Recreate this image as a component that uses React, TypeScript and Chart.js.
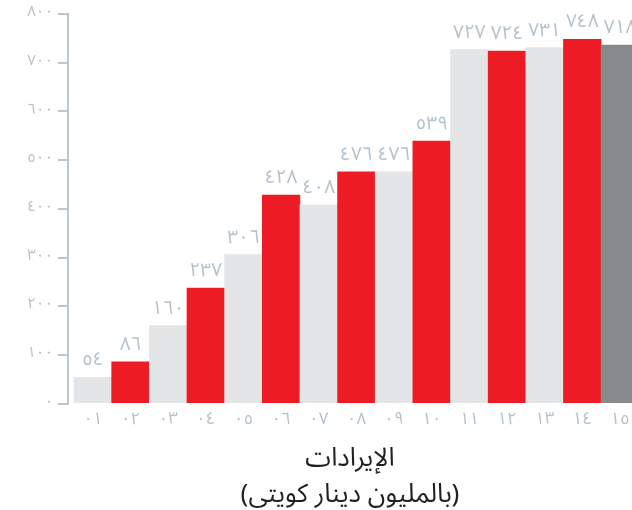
import React, { useEffect, useRef } from 'react';
import { Chart, registerables } from 'chart.js';

Chart.register(...registerables);

const years = ['٠١', '٠٢', '٠٣', '٠٤', '٠٥', '٠٦', '٠٧', '٠٨', '٠٩', '١٠', '١١', '١٢', '١٣', '١٤', '١٥'];
const revenues = [54, 86, 160, 237, 306, 428, 408, 476, 476, 539, 727, 724, 731, 748, 736];
const valueLabels = ['٥٤', '٨٦', '١٦٠', '٢٣٧', '٣٠٦', '٤٢٨', '٤٠٨', '٤٧٦', '٤٧٦', '٥٣٩', '٧٢٧', '٧٢٤', '٧٣١', '٧٤٨', '٧١٨'];
const yTickLabels = ['٠', '١٠٠', '٢٠٠', '٣٠٠', '٤٠٠', '٥٠٠', '٦٠٠', '٧٠٠', '٨٠٠'];
const axisTitle = ['الإيرادات', '(بالمليون دينار كويتي)'];

const RED = '#ED1C24';
const LIGHT = '#E4E5E7';
const DARK = '#88898B';
const barColors = years.map((_, i) => (i === years.length - 1 ? DARK : i % 2 === 0 ? LIGHT : RED));

const AXIS = '#B9C7D2';
const TEXT_LIGHT = '#B4C2CE';
const FONT = "'Noto Sans Arabic', 'DejaVu Sans', 'Noto Sans', sans-serif";

const valueLabelPlugin = {
  id: 'valueLabels',
  afterDatasetsDraw(chart: any) {
    const ctx = chart.ctx;
    const meta = chart.getDatasetMeta(0);
    ctx.save();
    ctx.fillStyle = TEXT_LIGHT;
    ctx.font = `19px ${FONT}`;
    ctx.textAlign = 'center';
    ctx.textBaseline = 'alphabetic';
    meta.data.forEach((el: any, i: number) => {
      ctx.fillText(valueLabels[i], el.x, el.y - 12);
    });
    ctx.restore();
  },
};

export default function App() {
  const ref = useRef<HTMLCanvasElement | null>(null);

  useEffect(() => {
    if (!ref.current) return;
    const chart = new Chart(ref.current, {
      type: 'bar',
      data: {
        datasets: [
          {
            data: revenues.map((v, i) => ({ x: i + 1, y: v })),
            backgroundColor: barColors,
            borderWidth: 0,
            categoryPercentage: 1,
            barPercentage: 1,
          },
        ],
      },
      options: {
        animation: false,
        responsive: true,
        maintainAspectRatio: false,
        layout: { padding: { top: 12, left: 0, right: 0, bottom: 0 } },
        plugins: {
          legend: { display: false },
          tooltip: { enabled: false },
        },
        scales: {
          x: {
            type: 'linear',
            min: 0.34,
            max: 15.32,
            offset: false,
            grid: { display: false, drawTicks: false },
            border: { display: false },
            afterBuildTicks: (s: any) => {
              s.ticks = years.map((_, i) => ({ value: i + 1 }));
            },
            afterFit: (s: any) => {
              s.paddingLeft = 0;
              s.paddingRight = 0;
            },
            ticks: {
              autoSkip: false,
              maxRotation: 0,
              color: TEXT_LIGHT,
              font: { family: FONT, size: 17 },
              padding: 8,
              callback: (v: any) => years[Number(v) - 1] ?? '',
            },
            title: {
              display: true,
              text: axisTitle,
              color: '#231F20',
              font: { family: FONT, size: 26, lineHeight: 36 / 26 },
              padding: { top: 4, bottom: -6 },
            },
          },
          y: {
            min: 0,
            max: 800,
            afterFit: (s: any) => {
              s.width = 68;
            },
            ticks: {
              stepSize: 100,
              color: TEXT_LIGHT,
              font: { family: FONT, size: 15 },
              padding: 5,
              callback: (v: any) => yTickLabels[Math.round(Number(v) / 100)] ?? '',
            },
            grid: {
              drawOnChartArea: false,
              drawTicks: true,
              tickLength: 10,
              color: AXIS,
              lineWidth: 2,
            },
            border: { display: true, color: AXIS, width: 2 },
          },
        },
      } as any,
      plugins: [valueLabelPlugin],
    });
    return () => chart.destroy();
  }, []);

  return (
    <div style={{ position: 'absolute', left: 0, top: 0, width: 632, height: 510, overflow: 'hidden', background: '#fff' }}>
      <canvas ref={ref} />
    </div>
  );
}
